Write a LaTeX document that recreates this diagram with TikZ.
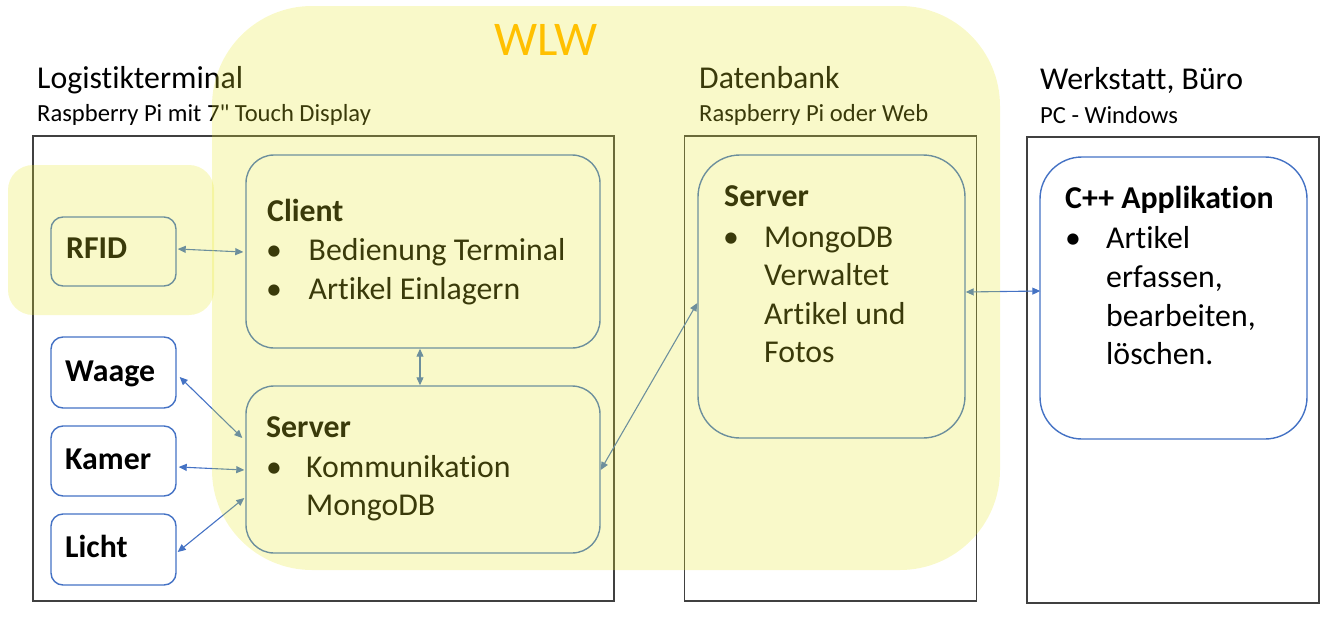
\documentclass[tikz,border=0pt]{standalone}
\usepackage{fontspec}
\setmainfont{Carlito}[Ligatures={NoCommon,TeXOff}]
\usetikzlibrary{calc,arrows.meta}
\definecolor{accent}{HTML}{4472C4}
\definecolor{hilite}{RGB}{232,232,40}
\definecolor{wlwcol}{HTML}{FFC000}
\definecolor{framecol}{HTML}{404040}
\begin{document}
\begin{tikzpicture}[x=1pt,y=-1pt,
  framebox/.style={draw=framecol, line width=1.5pt, rectangle, inner sep=0pt},
  card/.style={draw=accent, line width=1.4pt, rectangle, rounded corners=#1, inner sep=0pt},
  card/.default=25,
  txt/.style={anchor=base west, inner sep=0pt, font=\fontsize{31.8}{38}\selectfont},
  ttl/.style={anchor=base west, inner sep=0pt, font=\bfseries\fontsize{31.8}{38}\selectfont},
  sub/.style={anchor=base west, inner sep=0pt, font=\fontsize{24.6}{29}\selectfont},
  conn/.style={draw=accent, line width=1.1pt, {Triangle[length=8pt,width=7pt]}-{Triangle[length=8pt,width=7pt]}},
  glow/.style={fill=hilite, fill opacity=0.25}
]
\useasboundingbox (0,0) rectangle (1336,632);
% outer frames
\node[framebox, minimum width=581, minimum height=465] (lt) at (323.5,368.5) {};
\node[framebox, minimum width=292, minimum height=465] (db) at (830.5,368.5) {};
\node[framebox, minimum width=292, minimum height=466] (ws) at (1173,370) {};
% headings
\node[txt] (ltT) at (37,88) {Logistikterminal};
\node[sub] (ltS) at (37,121) {Raspberry Pi mit 7" Touch Display};
\node[txt] (dbT) at (699,88) {Datenbank};
\node[sub] (dbS) at (699,121) {Raspberry Pi oder Web};
\node[txt] (wsT) at (1040,89) {Werkstatt, Büro};
\node[sub] (wsS) at (1040,123) {PC - Windows};
% small device boxes
\node[card=12, minimum width=125, minimum height=69] (rfid) at (113.5,251.5) {};
\node[card=12, minimum width=125, minimum height=71] (waage) at (113.5,372.5) {};
\node[card=12, minimum width=125, minimum height=70] (kamer) at (113.5,461) {};
\node[card=12, minimum width=125, minimum height=71] (licht) at (113.5,549.5) {};
\node[ttl] (rfidT) at (66,258) {RFID};
\node[ttl] (waageT) at (65,381) {Waage};
\node[ttl] (kamerT) at (65,469) {Kamer};
\node[ttl] (lichtT) at (65,557) {Licht};
% client
\node[card=28, minimum width=354, minimum height=193] (client) at (423,251.5) {};
\node[ttl] (clientT) at (267,221) {Client};
\node[txt] (clientB1) at (266,260) {•};
\node[txt] (clientL1) at (308.5,260) {Bedienung Terminal};
\node[txt] (clientB2) at (266,299) {•};
\node[txt] (clientL2) at (308.5,299) {Artikel Einlagern};
% terminal server
\node[card=28, minimum width=354, minimum height=167] (tserver) at (423,469.5) {};
\node[ttl] (tserverT) at (266,437) {Server};
\node[txt] (tserverB1) at (266,477) {•};
\node[txt] (tserverL1) at (306,477) {Kommunikation};
\node[txt] (tserverL2) at (306,515) {MongoDB};
% database server
\node[card=42, minimum width=267, minimum height=283] (dbserver) at (831.5,296.5) {};
\node[ttl] (dbserverT) at (724,206) {Server};
\node[txt] (dbserverB1) at (723,247) {•};
\node[txt] (dbserverL1) at (764,247) {MongoDB};
\node[txt] (dbserverL2) at (764,285) {Verwaltet};
\node[txt] (dbserverL3) at (764,324) {Artikel und};
\node[txt] (dbserverL4) at (764,362) {Fotos};
% C++ application
\node[card=42, minimum width=267, minimum height=282] (app) at (1173.5,298) {};
\node[ttl] (appT) at (1065,208) {C++ Applikation};
\node[txt] (appB1) at (1065,248) {•};
\node[txt] (appL1) at (1106,248) {Artikel};
\node[txt] (appL2) at (1106,287) {erfassen,};
\node[txt] (appL3) at (1106,326) {bearbeiten,};
\node[txt] (appL4) at (1106,364) {löschen.};
% connectors
\draw[conn] ($(rfid.east)+(1,-2.5)$) -- ($(client.west)+(-2,0.5)$);
\draw[conn] ($(waage.east)+(3,4.5)$) -- ($(tserver.west)+(-3,-31.5)$);
\draw[conn] ($(kamer.east)+(2,6)$) -- ($(tserver.west)+(-1,0.5)$);
\draw[conn] ($(licht.east)+(1,2.5)$) -- ($(tserver.west)+(-1,28.5)$);
\draw[conn] ($(client.south)+(-3,0)$) -- ($(tserver.north)+(-3,0)$);
\draw[conn] ($(tserver.east)+(0,0.5)$) -- ($(dbserver.west)+(0,6.5)$);
\draw[conn] ($(dbserver.east)+(0,-4.5)$) -- ($(app.west)+(1,-7)$);
% highlight overlays
\fill[glow, rounded corners=100] (212,6) rectangle (1000,570);
\fill[glow, rounded corners=25] (8,165) rectangle (214,315);
\node[anchor=base west, inner sep=0pt, text=wlwcol, font=\fontsize{48.4}{58}\selectfont] (wlw) at (494,55) {WLW};
\end{tikzpicture}
\end{document}
